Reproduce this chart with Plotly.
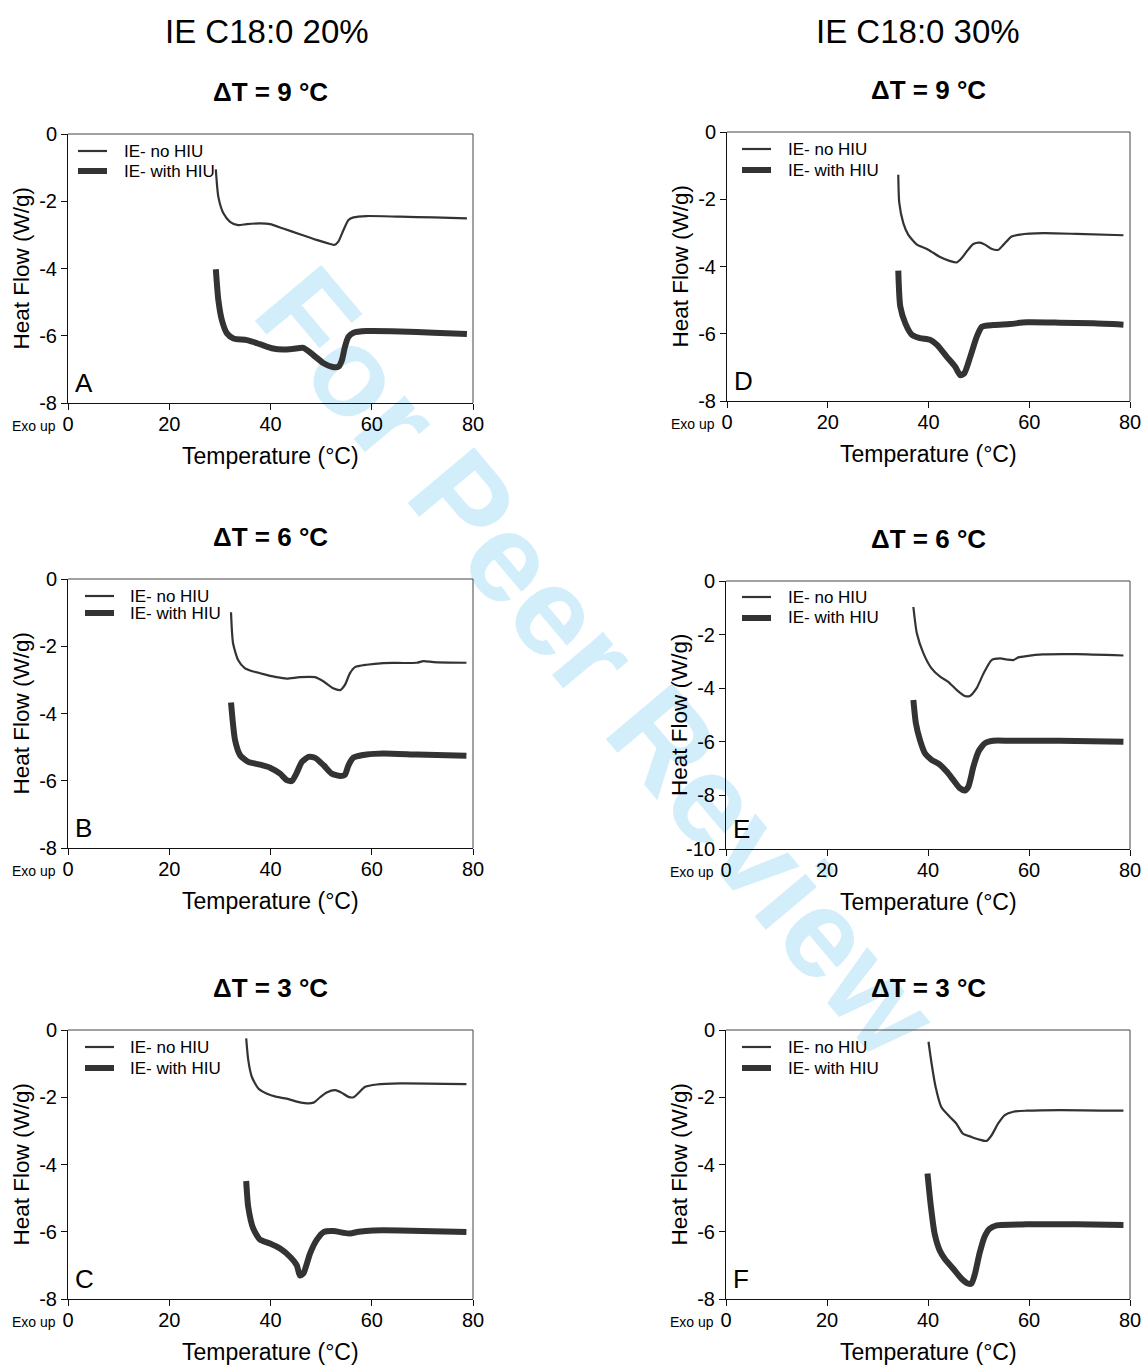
import plotly.graph_objects as go

# ---- DSC heating curves: temperature (°C) and heat flow (W/g) ----
# Panel A: IE C18:0 20%, ΔT = 9 °C
a_no_t = [29.2, 29.7, 30.7, 32.0, 33.6, 35.3, 37.9, 39.9, 42.5, 45.8, 49.1, 51.8, 52.6, 53.4, 54.4, 55.4, 56.4, 59.0, 65.6, 72.2, 78.8]
a_no_hf = [-1.05, -1.87, -2.36, -2.61, -2.71, -2.68, -2.66, -2.68, -2.81, -2.98, -3.15, -3.27, -3.30, -3.20, -2.86, -2.56, -2.48, -2.44, -2.46, -2.48, -2.51]
a_hiu_t = [29.2, 29.7, 30.4, 31.4, 32.7, 35.3, 37.9, 40.5, 42.5, 44.5, 46.5, 48.5, 50.4, 52.1, 53.4, 54.1, 54.7, 55.4, 56.4, 59.0, 65.6, 72.2, 78.8]
a_hiu_hf = [-4.02, -4.94, -5.54, -5.93, -6.08, -6.13, -6.25, -6.38, -6.41, -6.39, -6.36, -6.58, -6.81, -6.92, -6.92, -6.73, -6.33, -6.03, -5.91, -5.86, -5.87, -5.91, -5.95]

# Panel B: IE C18:0 20%, ΔT = 6 °C
b_no_t = [32.2, 32.6, 33.6, 34.9, 36.6, 39.2, 41.2, 43.2, 45.8, 48.8, 50.5, 52.4, 53.8, 54.7, 55.7, 56.7, 59.0, 62.3, 68.9, 70.2, 72.2, 78.7]
b_no_hf = [-0.99, -1.91, -2.41, -2.65, -2.75, -2.85, -2.92, -2.96, -2.92, -2.92, -3.05, -3.25, -3.30, -3.15, -2.80, -2.62, -2.55, -2.50, -2.49, -2.44, -2.47, -2.49]
b_hiu_t = [32.2, 33.0, 34.0, 35.6, 37.9, 39.9, 41.9, 43.2, 44.2, 45.1, 46.2, 47.5, 48.8, 50.5, 52.1, 53.8, 54.7, 55.4, 56.4, 59.0, 62.3, 68.9, 78.7]
b_hiu_hf = [-3.67, -4.79, -5.24, -5.44, -5.52, -5.61, -5.79, -5.98, -6.01, -5.79, -5.44, -5.29, -5.32, -5.54, -5.79, -5.86, -5.82, -5.54, -5.31, -5.22, -5.19, -5.22, -5.26]

# Panel C: IE C18:0 20%, ΔT = 3 °C
c_no_t = [35.2, 35.6, 36.3, 37.6, 39.2, 41.2, 43.2, 45.2, 47.2, 48.5, 49.8, 51.1, 52.8, 54.1, 55.4, 56.4, 57.4, 58.7, 61.0, 65.6, 78.7]
c_no_hf = [-0.25, -0.89, -1.39, -1.74, -1.89, -1.99, -2.04, -2.13, -2.18, -2.16, -2.00, -1.86, -1.79, -1.87, -1.99, -2.00, -1.87, -1.69, -1.62, -1.59, -1.61]
c_hiu_t = [35.2, 35.6, 36.6, 37.9, 39.9, 41.9, 43.9, 45.2, 45.8, 46.5, 47.8, 49.1, 50.5, 52.4, 54.4, 55.7, 57.4, 60.3, 65.6, 78.7]
c_hiu_hf = [-4.49, -5.26, -5.91, -6.23, -6.35, -6.50, -6.75, -7.00, -7.30, -7.24, -6.65, -6.25, -6.01, -5.98, -6.03, -6.05, -6.00, -5.96, -5.96, -6.01]

# Panel D: IE C18:0 30%, ΔT = 9 °C
d_no_t = [34.0, 34.2, 35.0, 36.0, 37.7, 39.7, 41.0, 42.3, 44.3, 45.6, 46.6, 47.6, 48.9, 50.2, 51.2, 52.6, 53.9, 54.9, 56.5, 58.2, 62.8, 69.4, 78.7]
d_no_hf = [-1.27, -2.11, -2.71, -3.06, -3.35, -3.48, -3.60, -3.72, -3.84, -3.88, -3.75, -3.55, -3.33, -3.29, -3.35, -3.48, -3.50, -3.35, -3.11, -3.05, -3.01, -3.03, -3.07]
d_hiu_t = [34.0, 34.4, 35.4, 36.7, 38.3, 40.3, 41.7, 43.6, 45.3, 46.3, 47.1, 48.3, 49.6, 50.6, 52.9, 56.2, 59.5, 66.1, 72.7, 78.7]
d_hiu_hf = [-4.12, -5.19, -5.69, -6.03, -6.13, -6.18, -6.33, -6.68, -6.98, -7.23, -7.18, -6.68, -6.08, -5.79, -5.74, -5.71, -5.66, -5.67, -5.69, -5.73]

# Panel E: IE C18:0 30%, ΔT = 6 °C
e_no_t = [37.1, 37.8, 39.1, 40.7, 42.4, 44.0, 45.7, 47.3, 48.3, 49.6, 51.0, 52.6, 54.3, 55.6, 56.9, 57.9, 59.5, 62.8, 69.4, 78.7]
e_no_hf = [-0.97, -1.96, -2.70, -3.26, -3.57, -3.76, -4.07, -4.29, -4.29, -4.01, -3.45, -2.95, -2.89, -2.93, -2.95, -2.85, -2.80, -2.74, -2.73, -2.78]
e_hiu_t = [37.1, 37.6, 38.4, 39.4, 40.7, 42.4, 43.7, 45.0, 46.3, 47.3, 48.0, 49.0, 50.0, 51.3, 52.9, 56.2, 66.1, 78.7]
e_hiu_hf = [-4.44, -5.31, -5.93, -6.43, -6.67, -6.86, -7.11, -7.42, -7.73, -7.82, -7.67, -6.92, -6.36, -6.05, -5.96, -5.96, -5.96, -6.00]

# Panel F: IE C18:0 30%, ΔT = 3 °C
f_no_t = [40.1, 40.7, 41.5, 42.6, 44.3, 45.6, 46.9, 48.6, 50.2, 51.6, 52.6, 53.9, 55.2, 56.9, 59.5, 66.1, 78.7]
f_no_hf = [-0.35, -0.99, -1.69, -2.28, -2.58, -2.78, -3.08, -3.18, -3.26, -3.30, -3.13, -2.78, -2.53, -2.43, -2.40, -2.38, -2.40]
f_hiu_t = [39.9, 40.5, 41.3, 42.3, 43.3, 45.0, 46.6, 47.9, 48.6, 49.3, 50.2, 51.2, 52.2, 53.6, 59.5, 69.4, 78.7]
f_hiu_hf = [-4.27, -5.16, -6.05, -6.55, -6.80, -7.10, -7.39, -7.54, -7.54, -7.25, -6.65, -6.15, -5.91, -5.81, -5.78, -5.78, -5.80]

series_names = ["IE- no HIU", "IE- with HIU"]
column_titles = ["IE C18:0 20%", "IE C18:0 30%"]
panel_titles = ["ΔT = 9 °C", "ΔT = 6 °C", "ΔT = 3 °C"]
panel_letters = ["A", "B", "C", "D", "E", "F"]
x_ticks = [0, 20, 40, 60, 80]
y_ticks_8 = [0, -2, -4, -6, -8]
y_ticks_10 = [0, -2, -4, -6, -8, -10]

panel_data = [
    (a_no_t, a_no_hf, a_hiu_t, a_hiu_hf, y_ticks_8),
    (b_no_t, b_no_hf, b_hiu_t, b_hiu_hf, y_ticks_8),
    (c_no_t, c_no_hf, c_hiu_t, c_hiu_hf, y_ticks_8),
    (d_no_t, d_no_hf, d_hiu_t, d_hiu_hf, y_ticks_8),
    (e_no_t, e_no_hf, e_hiu_t, e_hiu_hf, y_ticks_10),
    (f_no_t, f_no_hf, f_hiu_t, f_hiu_hf, y_ticks_8),
]

# ---- layout geometry (pixels) ----
W, H = 1144, 1365
FONT = "Liberation Sans, Arial, Helvetica, sans-serif"
LINE = "#333333"
THIN, THICK = 2.2, 6
# plot-area boxes: (left, top, right, bottom)
boxes = [
    (68, 134, 473, 403),
    (68, 579, 473, 848),
    (68, 1030, 473, 1299),
    (727, 132, 1130, 401),
    (726, 581, 1130, 849),
    (726, 1030, 1130, 1299),
]
# key placement per panel: (swatch left, text left, row 1 y, row 2 y)
key_pos = [
    (78, 122, 151, 171),
    (85, 128, 596, 613),
    (85, 128, 1047, 1068),
    (742, 786, 149, 170),
    (742, 786, 597, 618),
    (742, 786, 1047, 1068),
]


def px(x):
    return x / W


def py(y):
    return 1 - y / H


fig = go.Figure()
annotations = []
shapes = []

for i, (t0, h0, t1, h1, yt) in enumerate(panel_data):
    n = i + 1
    sfx = "" if n == 1 else str(n)
    xa, ya = "x" + sfx, "y" + sfx
    fig.add_trace(go.Scatter(
        x=t0, y=h0, mode="lines", name=series_names[0], showlegend=False,
        line=dict(color=LINE, width=THIN, shape="spline", smoothing=0.6),
        xaxis=xa, yaxis=ya))
    fig.add_trace(go.Scatter(
        x=t1, y=h1, mode="lines", name=series_names[1], showlegend=False,
        line=dict(color=LINE, width=THICK, shape="spline", smoothing=0.6),
        xaxis=xa, yaxis=ya))

    l, t, r, b = boxes[i]
    axis_common = dict(showline=True, linecolor="#111111", linewidth=1,
                       ticks="outside", tickcolor="#111111", tickwidth=1,
                       ticklen=6, showgrid=False, zeroline=False,
                       tickfont=dict(family=FONT, size=20, color="black"))
    fig.update_layout(**{
        "xaxis" + sfx: dict(domain=[px(l), px(r)], range=[0, 80], anchor=ya,
                            tickvals=x_ticks, ticktext=[str(v) for v in x_ticks],
                            ticklabelstandoff=-3, **axis_common),
        "yaxis" + sfx: dict(domain=[py(b), py(t)], range=[yt[-1], 0], anchor=xa,
                            tickvals=yt, ticktext=[str(v) for v in yt],
                            **axis_common),
    })

    # top and right frame lines
    shapes.append(dict(type="line", xref=xa + " domain", yref=ya + " domain",
                       x0=0, x1=1, y0=1, y1=1, line=dict(color="#444444", width=1)))
    shapes.append(dict(type="line", xref=xa + " domain", yref=ya + " domain",
                       x0=1, x1=1, y0=0, y1=1, line=dict(color="#444444", width=1)))

    # series key
    sx, tx, r1, r2 = key_pos[i]
    for yk, wk, name in ((r1, THIN, series_names[0]), (r2, THICK, series_names[1])):
        shapes.append(dict(type="line", xref="paper", yref="paper",
                           x0=px(sx), x1=px(sx + 29), y0=py(yk), y1=py(yk),
                           line=dict(color=LINE, width=wk)))
        annotations.append(dict(text=name, x=px(tx), y=py(yk),
                                xref="paper", yref="paper", showarrow=False,
                                xanchor="left", yanchor="middle",
                                font=dict(family=FONT, size=17, color="black")))

    cx = (l + r) / 2
    # axis titles
    annotations.append(dict(text="Temperature (°C)", x=px(cx), y=py(b + 53),
                            xref="paper", yref="paper", showarrow=False,
                            xanchor="center", yanchor="middle",
                            font=dict(family=FONT, size=23, color="black")))
    annotations.append(dict(text="Heat Flow (W/g)", x=px(l - 47), y=py((t + b) / 2),
                            xref="paper", yref="paper", showarrow=False, textangle=-90,
                            xanchor="center", yanchor="middle",
                            font=dict(family=FONT, size=22.5, color="black")))
    # exotherm direction note
    annotations.append(dict(text="Exo up", x=px(l - 10), y=py(b + 23),
                            xref="paper", yref="paper", showarrow=False,
                            xanchor="right", yanchor="middle",
                            font=dict(family=FONT, size=14, color="black")))
    # panel letter
    annotations.append(dict(text=panel_letters[i], x=px(l + 5), y=py(b - 20),
                            xref="paper", yref="paper", showarrow=False,
                            xanchor="left", yanchor="middle",
                            font=dict(family=FONT, size=26, color="black")))
    # ΔT heading
    annotations.append(dict(text="<b>" + panel_titles[i % 3] + "</b>",
                            x=px(cx), y=py(t - 42),
                            xref="paper", yref="paper", showarrow=False,
                            xanchor="center", yanchor="middle",
                            font=dict(family=FONT, size=26, color="black")))

# column headings
for j, title in enumerate(column_titles):
    annotations.append(dict(text=title, x=px(267 if j == 0 else 918), y=py(31),
                            xref="paper", yref="paper", showarrow=False,
                            xanchor="center", yanchor="middle",
                            font=dict(family=FONT, size=33, color="black")))

# diagonal watermark, kept underneath the plots
shapes.append(dict(type="line", xref="paper", yref="paper", layer="below",
                   x0=px(277), y0=py(260), x1=px(937), y1=py(1048),
                   line=dict(color="rgba(0,0,0,0)", width=0),
                   label=dict(text="<b>For Peer Review</b>", textangle=50,
                              textposition="middle", yanchor="middle",
                              font=dict(family=FONT, size=126, color="#d3eefb"))))

fig.update_layout(
    width=W, height=H, margin=dict(l=0, r=0, t=0, b=0, autoexpand=False),
    paper_bgcolor="white", plot_bgcolor="rgba(0,0,0,0)",
    annotations=annotations, shapes=shapes, showlegend=False,
)

fig.write_html("out.html")
